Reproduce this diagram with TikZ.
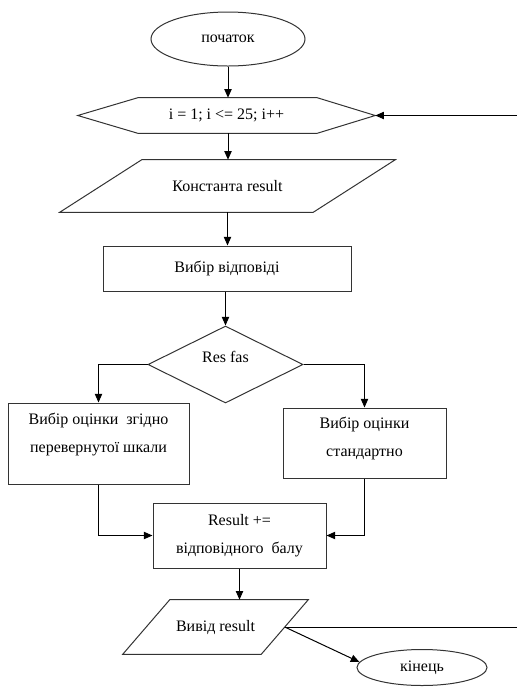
\documentclass[tikz,border=0pt]{standalone}
\usepackage{fontspec}
\setmainfont{Liberation Serif}
\usetikzlibrary{shapes.geometric,arrows.meta,calc}
\begin{document}
\begin{tikzpicture}[x=0.75pt,y=-0.75pt,
  font=\fontsize{12}{21}\selectfont,
  shp/.style={draw=black!80, line width=0.75pt, inner sep=0pt, align=center},
  ghost/.style={inner sep=0pt, align=center},
  txt/.style={inner sep=0pt, align=center},
  con/.style={draw=black, line width=0.75pt},
  arr/.style={con, -{Triangle[length=6.5pt,width=5.5pt]}},
]
\useasboundingbox (0,0) rectangle (517,687);
% nodes
\node[shp, ellipse, minimum width={154*0.75pt}, minimum height={54*0.75pt}] (start) at (228,39) {початок};
\node[ghost, minimum width={297*0.75pt}, minimum height={35*0.75pt}] (loop) at (226.5,115.5) {i = 1; i <= 25; i++};
\draw[shp] (loop.west) -- ($(loop.north west)+(60,0)$) -- ($(loop.north east)+(-58,0)$) -- (loop.east) -- ($(loop.south east)+(-58,0)$) -- ($(loop.south west)+(60,0)$) -- cycle;
\node[ghost, minimum width={335*0.75pt}, minimum height={52*0.75pt}] (konst) at (227.5,186) {Константа result};
\draw[shp] ($(konst.north west)+(82,0)$) -- (konst.north east) -- ($(konst.south east)+(-82,0)$) -- (konst.south west) -- cycle;
\node[shp, minimum width={248*0.75pt}, minimum height={45*0.75pt}] (choice) at (227,268.5) {Вибір відповіді};
\node[shp, diamond, minimum width={155*0.75pt}, minimum height={77*0.75pt}] (cond) at (225.5,364.5) {};
\node[txt] (condtxt) at (225.5,357) {Res fas};
\node[shp, minimum width={181*0.75pt}, minimum height={81*0.75pt}] (left) at (98.5,443.5) {};
\node[txt] (lefttxt) at (98.5,434) {Вибір оцінки\ \ згідно\\перевернутої шкали};
\node[shp, minimum width={163*0.75pt}, minimum height={70*0.75pt}] (right) at (364.5,443) {};
\node[txt] (righttxt) at (364.5,438) {Вибір оцінки\\стандартно};
\node[shp, minimum width={173*0.75pt}, minimum height={65*0.75pt}] (result) at (239.5,535.5) {Result +=\\відповідного\ \ балу};
\node[ghost, minimum width={185*0.75pt}, minimum height={54*0.75pt}] (output) at (215.5,627) {Вивід result};
\draw[shp] ($(output.north west)+(47,0)$) -- (output.north east) -- ($(output.south east)+(-47,0)$) -- (output.south west) -- cycle;
\node[shp, ellipse, minimum width={130*0.75pt}, minimum height={36*0.75pt}] (end) at (422,667.5) {кінець};
% connectors
\coordinate (loopin) at (517,115.5);
\coordinate (outE) at ($(output.east)+(-23.5,0)$);
\coordinate (outR) at (517,627);
\draw[arr] (start.south) -- (start.south |- loop.north);
\draw[arr] (loopin) -- (loop.east);
\draw[arr] (loop.south -| start.south) -- (konst.north -| start.south);
\draw[arr] (konst.south) -- (konst.south |- choice.north);
\draw[arr] (choice.south -| cond.north) -- (cond.north);
\draw[arr] (cond.west) -| (left.north);
\draw[arr] (cond.east) -| (right.north);
\draw[arr] (left.south) |- (result.west);
\draw[arr] (right.south) |- (result.east);
\draw[arr] (result.south) -- (result.south |- output.north);
\draw[con] (outE) -- (outR);
\draw[arr] (outE) -- (end.175);
\end{tikzpicture}
\end{document}
